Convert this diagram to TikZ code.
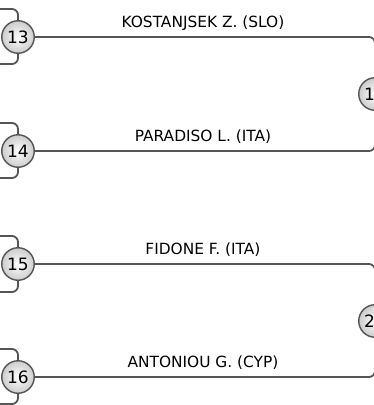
\documentclass[tikz,border=0pt]{standalone}
\usepackage{fontspec}
\setmainfont{DejaVu Sans}
\definecolor{linegray}{HTML}{555555}

\begin{document}
\begin{tikzpicture}[x=1pt, y=-1pt,
    match/.style={circle, draw=linegray, line width=1.4pt, inner sep=0pt,
        minimum size=32.5pt, inner color=white, outer color=gray!40,
        font=\fontsize{17}{19}\selectfont},
    link/.style={draw=linegray, line width=1.8pt, rounded corners=6pt},
    player/.style={anchor=base, yshift=9.5pt, xshift=-2pt, font=\fontsize{15.4}{18}\selectfont}]

    % Cadre de l'image
    \useasboundingbox (0,0) rectangle (374,405);
    \clip (0,0) rectangle (374,405);

    % Entrées du tour précédent (hors cadre)
    \coordinate (in13a) at (-10,9);
    \coordinate (in13b) at (-10,64);
    \coordinate (in14a) at (-10,123);
    \coordinate (in14b) at (-10,178);
    \coordinate (in15a) at (-10,236);
    \coordinate (in15b) at (-10,292);
    \coordinate (in16a) at (-10,349);
    \coordinate (in16b) at (-10,404);

    % Matchs
    \node[match] (m13) at (18,37) {13};
    \node[match] (m14) at (18,151) {14};
    \node[match] (m15) at (18,264) {15};
    \node[match] (m16) at (18,377) {16};
    \node[match] (m19) at (375,94) {19};
    \node[match] (m20) at (375,321) {20};

    % Liaisons vers les matchs de gauche
    \draw[link] (in13a) -| (m13.north);
    \draw[link] (in13b) -| (m13.south);
    \draw[link] (in14a) -| (m14.north);
    \draw[link] (in14b) -| (m14.south);
    \draw[link] (in15a) -| (m15.north);
    \draw[link] (in15b) -| (m15.south);
    \draw[link] (in16a) -| (m16.north);
    \draw[link] (in16b) -| (m16.south);

    % Vainqueurs vers le tour suivant
    \draw[link] (m13.east) -- node[player] {KOSTANJSEK Z. (SLO)} (m13 -| m19) -- (m19.north);
    \draw[link] (m14.east) -- node[player] {PARADISO L. (ITA)} (m14 -| m19) -- (m19.south);
    \draw[link] (m15.east) -- node[player] {FIDONE F. (ITA)} (m15 -| m20) -- (m20.north);
    \draw[link] (m16.east) -- node[player] {ANTONIOU G. (CYP)} (m16 -| m20) -- (m20.south);

\end{tikzpicture}
\end{document}
